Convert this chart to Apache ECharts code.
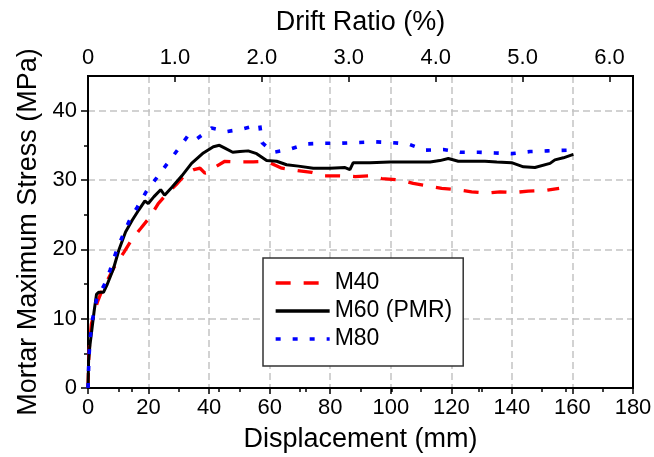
<!DOCTYPE html>
<html><head><meta charset="utf-8">
<script src="https://cdn.jsdelivr.net/npm/echarts@6/dist/echarts.min.js"></script>
<style>html,body{margin:0;padding:0;background:#fff}#c{width:654px;height:457px}</style>
</head><body><div id="c"></div>
<script>
// Displacement (mm) / mortar stress (MPa)
const m40X = [0, 0.3, 1.1, 3.1, 4.2, 6.4, 8.6, 11.9, 14.6, 17.4, 20.7, 23.2, 27.1, 29.5, 32.6, 35.0, 37.0, 38.6, 40.3, 42.5, 45.2, 49.6, 54.6, 59.0, 64.0, 68.4, 73.9, 78.3, 83.2, 88.2, 93.1, 97.0, 103.0, 107.4, 113.0, 116.8, 121.8, 126.7, 131.7, 136.1, 141.0, 145.4, 151.0, 155.6];
const m40Y = [0, 5.0, 9.2, 12.4, 13.6, 15.5, 17.4, 19.6, 21.5, 23.0, 24.8, 26.6, 28.5, 29.5, 31.0, 31.5, 31.7, 31.0, 31.2, 32.0, 32.7, 32.6, 32.6, 32.7, 31.7, 31.4, 31.1, 30.6, 30.6, 30.5, 30.6, 30.2, 30.0, 29.5, 29.1, 28.8, 28.6, 28.3, 28.1, 28.3, 28.2, 28.4, 28.5, 28.8];

const m60X = [0, 0.2, 0.6, 1.3, 2.0, 2.8, 3.5, 5.1, 6.4, 8.4, 10.2, 12.4, 14.6, 16.8, 18.8, 19.9, 21.8, 24.0, 25.3, 27.8, 31.0, 34.2, 38.1, 41.4, 43.4, 45.2, 47.8, 50.2, 52.9, 55.7, 59.0, 62.3, 65.6, 69.5, 74.4, 79.9, 84.9, 86.5, 87.6, 93.1, 99.7, 106.3, 113.0, 116.2, 119.0, 122.3, 126.2, 131.1, 135.0, 139.9, 143.8, 147.6, 152.6, 154.2, 157.0, 160.3];
const m60Y = [0, 4.0, 6.0, 8.5, 11.0, 13.5, 13.8, 13.8, 15.0, 17.2, 19.9, 22.5, 24.2, 25.7, 27.0, 26.6, 27.6, 28.6, 27.8, 29.0, 30.6, 32.4, 33.9, 34.8, 35.0, 34.6, 34.0, 34.1, 34.2, 33.8, 32.8, 32.7, 32.2, 32.0, 31.7, 31.7, 31.8, 31.5, 32.5, 32.5, 32.6, 32.6, 32.6, 32.8, 33.1, 32.7, 32.7, 32.7, 32.6, 32.5, 31.9, 31.8, 32.4, 32.9, 33.2, 33.7];

const m80X = [0, 0.1, 0.3, 0.8, 1.4, 2.9, 5.3, 7.3, 9.1, 11.3, 13.5, 16.3, 19.2, 23.0, 26.4, 29.7, 33.2, 35.8, 40.8, 46.0, 51.5, 56.7, 57.5, 59.5, 61.2, 66.4, 72.2, 77.7, 83.2, 88.7, 94.8, 100.3, 105.8, 111.3, 117.3, 123.0, 128.9, 134.4, 139.9, 146.0, 151.7, 158.5];
const m80Y = [0, 1.0, 4.4, 7.5, 9.7, 12.9, 14.8, 17.0, 19.4, 21.8, 24.0, 26.1, 28.3, 30.5, 32.5, 34.4, 36.5, 35.9, 37.5, 37.0, 37.4, 38.0, 35.4, 34.6, 34.0, 34.4, 35.2, 35.3, 35.3, 35.4, 35.5, 35.4, 35.2, 34.3, 34.4, 34.0, 34.0, 33.9, 33.8, 34.1, 34.2, 34.3];

const seriesNames = ['M40', 'M60 (PMR)', 'M80'];

// Tick values and labels
const driftTickValues = [0, 1, 2, 3, 4, 5, 6];
const driftTickLabels = ['0', '1.0', '2.0', '3.0', '4.0', '5.0', '6.0'];
const driftMinorValues = [0.5, 1.5, 2.5, 3.5, 4.5, 5.5];
const driftAxisMax = 6.27;   // drift ratio (%) at 180 mm
const stressMajorValues = [0, 10, 20, 30, 40];
const stressMinorValues = [5, 15, 25, 35];

const FONT = '"Liberation Sans", Arial, sans-serif';
const pairs = (xs, ys) => xs.map((x, i) => [x, ys[i]]);
const rect = { left: 88, right: 21, top: 76, bottom: 69 };

const chart = echarts.init(document.getElementById('c'), null, { renderer: 'canvas' });
const axisLine = { show: true, lineStyle: { color: '#000', width: 2 } };
const tickStyle = { color: '#000', width: 1.5 };
const titleStyle = { fontSize: 27, color: '#000', fontFamily: FONT };

chart.setOption({
  animation: false,
  textStyle: { fontFamily: FONT },
  grid: [
    Object.assign({ show: true, borderColor: '#000', borderWidth: 2, containLabel: false, outerBoundsMode: 'none' }, rect),
    Object.assign({ show: false, containLabel: false, outerBoundsMode: 'none' }, rect)
  ],
  xAxis: [
    {
      type: 'value', gridIndex: 0, position: 'bottom', min: 0, max: 180, interval: 20,
      axisLine: axisLine,
      axisTick: { show: true, inside: false, length: 6, lineStyle: tickStyle },
      minorTick: { show: true, splitNumber: 2, length: 4, lineStyle: tickStyle },
      splitLine: { show: true, lineStyle: { color: '#c4c4c4', width: 1.5, type: [7, 4] } },
      axisLabel: { fontSize: 22, color: '#000', margin: 9, fontFamily: FONT },
      name: 'Displacement (mm)', nameLocation: 'middle', nameGap: 38,
      nameTextStyle: titleStyle
    },
    {
      type: 'value', gridIndex: 0, position: 'top', min: 0, max: driftAxisMax,
      axisLine: axisLine,
      axisTick: { show: true, inside: true, length: 6, lineStyle: tickStyle, customValues: driftTickValues },
      splitLine: { show: false },
      axisLabel: {
        fontSize: 22, color: '#000', margin: 7, fontFamily: FONT,
        customValues: driftTickValues,
        formatter: v => { const i = driftTickValues.indexOf(Math.round(v)); return i >= 0 && Math.abs(v - Math.round(v)) < 1e-6 ? driftTickLabels[i] : ''; }
      },
      name: 'Drift Ratio (%)', nameLocation: 'middle', nameGap: 40,
      nameTextStyle: titleStyle
    },
    {
      type: 'value', gridIndex: 1, position: 'top', min: 0, max: driftAxisMax,
      axisLine: { show: false },
      axisTick: { show: true, inside: true, length: 4, lineStyle: tickStyle, customValues: driftMinorValues },
      axisLabel: { show: false }, splitLine: { show: false }
    }
  ],
  yAxis: [
    {
      type: 'value', gridIndex: 0, position: 'left', min: 0, max: 45,
      axisLine: axisLine,
      axisTick: { show: true, inside: false, length: 7, lineStyle: tickStyle, customValues: stressMajorValues },
      splitLine: { show: true, lineStyle: { color: '#c4c4c4', width: 1.5, type: [7, 4] } },
      axisLabel: { fontSize: 22, color: '#000', margin: 11, fontFamily: FONT, customValues: stressMajorValues },
      name: 'Mortar Maximum Stress (MPa)', nameLocation: 'middle', nameGap: 46,
      nameTextStyle: titleStyle
    },
    {
      type: 'value', gridIndex: 1, position: 'left', min: 0, max: 45,
      axisLine: { show: false },
      axisTick: { show: true, inside: false, length: 4, lineStyle: tickStyle, customValues: stressMinorValues },
      axisLabel: { show: false }, splitLine: { show: false }
    },
    {
      type: 'value', gridIndex: 1, position: 'right', min: 0, max: 45,
      axisLine: axisLine,
      axisTick: { show: false }, axisLabel: { show: false }, splitLine: { show: false }
    }
  ],
  legend: {
    data: seriesNames, orient: 'vertical', left: 263, top: 258,
    padding: [13, 11, 15, 11], itemGap: 4, itemWidth: 54, itemHeight: 14,
    backgroundColor: '#fff', borderColor: '#333', borderWidth: 1.5,
    itemStyle: { opacity: 0 },
    lineStyle: { width: 3.3 },
    textStyle: { fontSize: 23, color: '#000', fontFamily: FONT, lineHeight: 24 }
  },
  series: [
    {
      name: seriesNames[0], type: 'line', xAxisIndex: 0, yAxisIndex: 0, data: pairs(m40X, m40Y),
      symbol: 'none', showSymbol: false, z: 2,
      lineStyle: { color: '#ff0000', width: 3.3, type: [15, 13] }, itemStyle: { color: '#ff0000' }
    },
    {
      name: seriesNames[1], type: 'line', xAxisIndex: 0, yAxisIndex: 0, data: pairs(m60X, m60Y),
      symbol: 'none', showSymbol: false, z: 3,
      lineStyle: { color: '#000000', width: 3 }, itemStyle: { color: '#000000' }
    },
    {
      name: seriesNames[2], type: 'line', xAxisIndex: 0, yAxisIndex: 0, data: pairs(m80X, m80Y),
      symbol: 'none', showSymbol: false, z: 4,
      lineStyle: { color: '#0000ff', width: 3.6, type: [5, 12] }, itemStyle: { color: '#0000ff' }
    }
  ]
});
</script>
</body></html>
